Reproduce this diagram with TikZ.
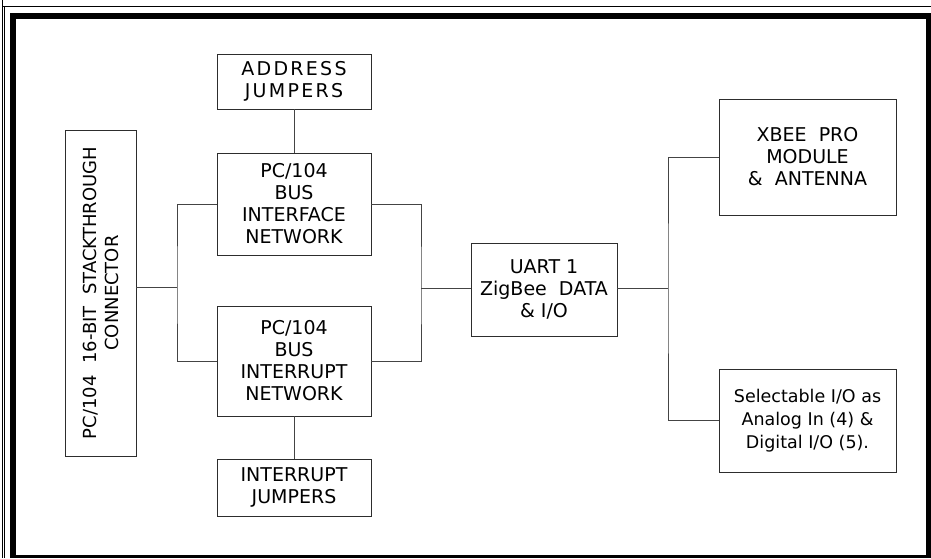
\documentclass[tikz,border=0pt]{standalone}
\usepackage{fontspec}
\setmainfont{DejaVu Sans}
\newfontfamily\spacedfont[LetterSpace=12]{DejaVu Sans}
\usetikzlibrary{positioning, calc}
\definecolor{lineGray}{HTML}{444444}
\definecolor{boxDark}{HTML}{2D2D2D}

\begin{document}
\begin{tikzpicture}[x=1pt, y=-1pt,
    box/.style={rectangle, draw=boxDark, line width=0.9pt, inner sep=0pt,
                minimum width=#1, align=center,
                font=\fontsize{19}{22}\selectfont},
    box/.default=154pt,
    wire/.style={draw=lineGray, line width=0.9pt},
  ]
    \useasboundingbox (0,0) rectangle (931,558);

    % outer frame
    \draw[line width=0.7pt] (2.7,0) -- (2.7,558);
    \draw[line width=0.7pt] (2.7,6) -- (931,6);
    \draw[line width=0.7pt] (4.4,6) -- (4.4,558);
    \fill (10,12.5) rectangle (931,19);
    \fill (10,12.5) rectangle (16,558);
    \fill (926,12.5) rectangle (931,558);
    \fill (10,555) rectangle (931,557.5);

    \node[box=326pt, minimum height=71pt, rotate=90,
          font=\fontsize{18}{22}\selectfont] (conn) at (100.5,293)
      {PC/104\ \ 16-BIT\ \ STACKTHROUGH\\CONNECTOR};
    \node[box, minimum height=55pt] (addr) at (294,81.5)
      {\spacedfont ADDRESS\\\spacedfont JUMPERS};
    \node[box, minimum height=102pt] (iface) at (294,204)
      {PC/104\\BUS\\INTERFACE\\NETWORK};
    \node[box, minimum height=110pt] (irq) at (294,361)
      {PC/104\\BUS\\INTERRUPT\\NETWORK};
    \node[box, minimum height=57pt] (irqj) at (294,487.5)
      {INTERRUPT\\JUMPERS};
    \node[box=146pt, minimum height=93pt] (uart) at (544,289.5)
      {UART 1\\ZigBee\ \ DATA\\\& I/O\hspace{1.2em}};
    \node[box=177pt, minimum height=116pt] (xbee) at (807.5,157)
      {XBEE\ \ PRO\\MODULE\\\&\ \ ANTENNA};
    \node[box=177pt, minimum height=103pt,
          font=\fontsize{17.5}{23}\selectfont] (sel) at (807.5,420.5)
      {Selectable I/O as\\Analog In (4) \&\\Digital I/O (5).};

    \coordinate (lbus) at (177,287);
    \coordinate (rbus) at (421,288);
    \coordinate (obus) at (668,288);

    \draw[wire] (addr) -- (iface);
    \draw[wire] (irq) -- (irqj);
    \draw[wire] (conn.south |- lbus) -- (lbus);
    \draw[wire] (iface.west) -| (lbus) |- (irq.west);
    \draw[wire] (iface.east) -| (rbus) |- (irq.east);
    \draw[wire] (rbus) -- (rbus -| uart.west);
    \draw[wire] (uart.east |- obus) -- (obus);
    \draw[wire] (xbee.west) -| (obus) |- (sel.west);
  \end{tikzpicture}
\end{document}
